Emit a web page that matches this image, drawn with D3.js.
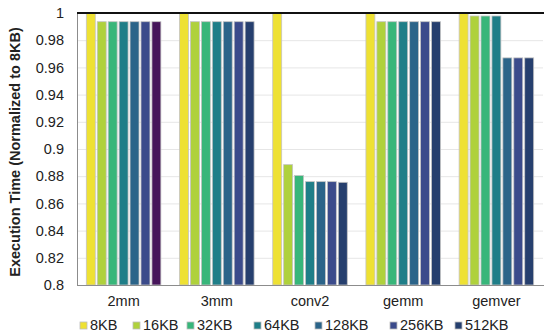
<!DOCTYPE html>
<html>
<head>
<meta charset="utf-8">
<script src="https://cdn.jsdelivr.net/npm/d3@7"></script>
<style>
  body { margin: 0; background: #fff; }
  svg { font-family: "Liberation Sans", Arial, sans-serif; }
</style>
</head>
<body>
<svg id="chart" width="544" height="335"></svg>
<script>
// benchmarks and cache sizes
var benchmarks = ["2mm", "3mm", "conv2", "gemm", "gemver"];
var sizes = ["8KB", "16KB", "32KB", "64KB", "128KB", "256KB", "512KB"];

// normalized execution time, one array per size (in benchmark order)
var v8KB   = [1, 1, 1, 1, 1];
var v16KB  = [0.9936, 0.9936, 0.8885, 0.9936, 0.9978];
var v32KB  = [0.9936, 0.9936, 0.8805, 0.9936, 0.9978];
var v64KB  = [0.9936, 0.9936, 0.8760, 0.9936, 0.9978];
var v128KB = [0.9936, 0.9936, 0.8760, 0.9936, 0.9670];
var v256KB = [0.9936, 0.9936, 0.8760, 0.9936, 0.9670];
var v512KB = [0.9936, 0.9936, 0.8755, 0.9936, 0.9670];

var yTicks = [0.8, 0.82, 0.84, 0.86, 0.88, 0.9, 0.92, 0.94, 0.96, 0.98, 1];

var colors = ["#eee133", "#afd13c", "#38b67a", "#1f7e88", "#2b6489", "#3b4b8b", "#263f6e"];

var series = [v8KB, v16KB, v32KB, v64KB, v128KB, v256KB, v512KB];
var data = [];
benchmarks.forEach(function(b, i) {
    sizes.forEach(function(s, j) {
        data.push({ bench: b, size: s, value: series[j][i] });
    });
});

var svg = d3.select("#chart");
var pLeft = 77, pRight = 543, pTop = 13, pBottom = 285;

var x0 = d3.scaleBand()
    .domain(benchmarks)
    .range([pLeft, pRight])
    .paddingInner(0.2)
    .paddingOuter(0.1);

var x1 = d3.scaleBand()
    .domain(sizes)
    .range([0, x0.bandwidth()])
    .paddingInner(0.18);

var y = d3.scaleLinear()
    .domain([0.8, 1])
    .range([pBottom, pTop]);

// gridlines
svg.append("g")
    .selectAll("line")
    .data(yTicks)
    .enter()
    .append("line")
    .attr("x1", pLeft)
    .attr("x2", pRight)
    .attr("y1", function(d) { return y(d) + 0.5; })
    .attr("y2", function(d) { return y(d) + 0.5; })
    .attr("stroke", "#e6e6e6");

// bars
svg.append("g")
    .selectAll("rect")
    .data(data)
    .enter()
    .append("rect")
    .attr("x", function(d) { return x0(d.bench) + x1(d.size); })
    .attr("y", function(d) { return y(d.value); })
    .attr("width", x1.bandwidth())
    .attr("height", function(d) { return y(0.8) - y(d.value); })
    .attr("fill", function(d) {
        // 2mm uses a purple for its last bar
        if (d.bench == "2mm" && d.size == "512KB") return "#46155a";
        return colors[sizes.indexOf(d.size)];
    })
    .attr("stroke", "#c4c4c4")
    .attr("stroke-width", 0.8);

// frame
svg.append("line")
    .attr("x1", pLeft + 0.5).attr("x2", pLeft + 0.5)
    .attr("y1", pTop).attr("y2", pBottom)
    .attr("stroke", "#8c8c8c");
svg.append("line")
    .attr("x1", pLeft).attr("x2", pRight + 1)
    .attr("y1", pBottom + 0.5).attr("y2", pBottom + 0.5)
    .attr("stroke", "#8c8c8c");
svg.append("line")
    .attr("x1", pLeft).attr("x2", pRight + 1)
    .attr("y1", pTop).attr("y2", pTop)
    .attr("stroke", "#111")
    .attr("stroke-width", 2);

// y axis
var yAxis = d3.axisLeft(y)
    .tickValues(yTicks)
    .tickSize(0)
    .tickPadding(13)
    .tickFormat(d3.format("~g"));
var ya = svg.append("g")
    .attr("transform", "translate(" + pLeft + ",0)")
    .call(yAxis);
ya.select(".domain").remove();
ya.selectAll("text")
    .style("font-size", "14.5px")
    .style("fill", "#222")
    .style("font-family", "Liberation Sans, Arial");

// x axis
var xAxis = d3.axisBottom(x0).tickSize(0).tickPadding(11);
var xa = svg.append("g")
    .attr("transform", "translate(0," + pBottom + ")")
    .call(xAxis);
xa.select(".domain").remove();
xa.selectAll("text")
    .style("font-size", "14.5px")
    .style("fill", "#222")
    .style("font-family", "Liberation Sans, Arial");

// y title
svg.append("text")
    .attr("transform", "translate(20,152) rotate(-90)")
    .attr("text-anchor", "middle")
    .style("font-size", "14.5px")
    .style("font-weight", "bold")
    .style("fill", "#222")
    .text("Execution Time (Normalized to 8KB)");

// legend
var legX = [80, 133, 187, 254, 315, 390, 455];
var leg = svg.append("g")
    .selectAll("g")
    .data(sizes)
    .enter()
    .append("g")
    .attr("transform", function(d, i) { return "translate(" + legX[i] + ",318)"; });
leg.append("rect")
    .attr("width", 7)
    .attr("height", 7)
    .attr("y", 4)
    .attr("fill", function(d, i) { return colors[i]; })
    .attr("stroke", "#bdbdbd")
    .attr("stroke-width", 0.8);
leg.append("text")
    .attr("x", 10)
    .attr("y", 12)
    .style("font-size", "14.5px")
    .style("fill", "#222")
    .text(function(d) { return d; });
</script>
</body>
</html>
